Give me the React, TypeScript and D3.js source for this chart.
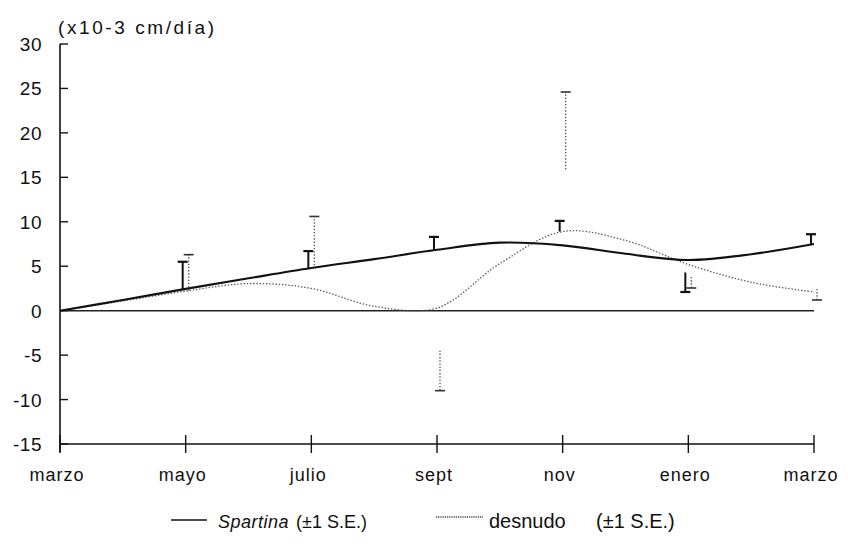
import React from "react";
import * as d3 from "d3";

// Month positions (0 = marzo, 12 = marzo of the following year)
const tickMonths = [0, 2, 4, 6, 8, 10, 12];
const tickLabels = ["marzo", "mayo", "julio", "sept", "nov", "enero", "marzo"];
const yTicks = [30, 25, 20, 15, 10, 5, 0, -5, -10, -15];

// Fitted curves, one value per month (x10-3 cm/día)
const curveMonths = [0, 1, 2, 3, 4, 5, 6, 7, 8, 9, 10, 11, 12];
const spartinaCurve = [0, 1.2, 2.45, 3.64, 4.8, 5.8, 6.85, 7.65, 7.35, 6.4, 5.7, 6.35, 7.5];
const desnudoCurve = [0, 1.1, 2.2, 3.05, 2.5, 0.5, 0.3, 5.3, 8.9, 7.9, 5.2, 3.2, 2.1];

// Standard-error bars: month, start of the bar, capped end
const spartinaBarMonths = [2, 4, 6, 8, 10, 12];
const spartinaBarFrom = [2.4, 4.8, 6.8, 8.9, 4.3, 7.5];
const spartinaBarTo = [5.5, 6.7, 8.3, 10.1, 2.1, 8.6];

const desnudoBarMonths = [2, 4, 6, 8, 10, 12];
const desnudoBarFrom = [2.25, 5.1, -4.5, 15.9, 3.8, 2.45];
const desnudoBarTo = [6.3, 10.6, -9.0, 24.6, 2.55, 1.2];

const W = 848;
const H = 544;
const FONT = "'Liberation Sans', Arial, sans-serif";

export default function App() {
  const x = d3.scaleLinear().domain([0, 12]).range([60, 814]);
  const y = d3.scaleLinear().domain([-15, 30]).range([444, 44]);

  const line = d3
    .line<number>()
    .x((_, i) => x(curveMonths[i]))
    .y((v) => y(v))
    .curve(d3.curveCatmullRom.alpha(0.5));

  const spartinaPath = line(spartinaCurve) || "";
  const desnudoPath = line(desnudoCurve) || "";

  const dotted = "1.4 1.8";

  return (
    <svg
      width={W}
      height={H}
      viewBox={`0 0 ${W} ${H}`}
      style={{ position: "absolute", left: 0, top: 0, background: "#fff" }}
      fontFamily={FONT}
    >
      <rect width={W} height={H} fill="#fff" />

      {/* unit label */}
      <text x={58} y={34} fontSize={19} fill="#111" textLength={156} lengthAdjust="spacing">
        (x10-3 cm/día)
      </text>

      {/* y axis */}
      <line x1={x(0)} x2={x(0)} y1={y(30)} y2={y(-15) + 8} stroke="#111" strokeWidth={1.6} />
      {yTicks.map((t) => (
        <g key={t}>
          <line x1={x(0)} x2={x(0) + 8} y1={y(t)} y2={y(t)} stroke="#111" strokeWidth={1.4} />
          <text x={42} y={y(t) + 7} fontSize={19} textAnchor="end" fill="#111" letterSpacing={0.5}>
            {t}
          </text>
        </g>
      ))}

      {/* x axis at the bottom */}
      <line x1={x(0)} x2={x(12)} y1={y(-15)} y2={y(-15)} stroke="#111" strokeWidth={1.6} />
      {tickMonths.map((m, i) => (
        <g key={i}>
          <line x1={x(m)} x2={x(m)} y1={y(-15) - 9} y2={y(-15) + 9} stroke="#111" strokeWidth={1.4} />
          <text x={x(m) - 3} y={481} fontSize={18} textAnchor="middle" fill="#111" letterSpacing={1}>
            {tickLabels[i]}
          </text>
        </g>
      ))}

      {/* zero reference */}
      <line x1={x(0)} x2={x(12)} y1={y(0)} y2={y(0)} stroke="#222" strokeWidth={1.5} />

      {/* fitted curves */}
      <path d={desnudoPath} fill="none" stroke="#555" strokeWidth={1.3} strokeDasharray={dotted} />
      <path d={spartinaPath} fill="none" stroke="#111" strokeWidth={2.1} />

      {/* Spartina error bars */}
      {spartinaBarMonths.map((m, i) => {
        const cx = x(m) - 3;
        return (
          <g key={"s" + i}>
            <line x1={cx} x2={cx} y1={y(spartinaBarFrom[i])} y2={y(spartinaBarTo[i])} stroke="#111" strokeWidth={2} />
            <line x1={cx - 5} x2={cx + 5} y1={y(spartinaBarTo[i])} y2={y(spartinaBarTo[i])} stroke="#111" strokeWidth={2.2} />
          </g>
        );
      })}

      {/* desnudo error bars */}
      {desnudoBarMonths.map((m, i) => {
        const cx = x(m) + 3;
        return (
          <g key={"d" + i}>
            <line x1={cx} x2={cx} y1={y(desnudoBarFrom[i])} y2={y(desnudoBarTo[i])} stroke="#555" strokeWidth={1.3} strokeDasharray={dotted} />
            <line x1={cx - 5} x2={cx + 5} y1={y(desnudoBarTo[i])} y2={y(desnudoBarTo[i])} stroke="#333" strokeWidth={1.6} />
          </g>
        );
      })}

      {/* legend */}
      <line x1={171} x2={207} y1={520} y2={520} stroke="#111" strokeWidth={1.4} />
      <text x={218} y={528} fontSize={18} fill="#111">
        <tspan fontStyle="italic" letterSpacing={0.5}>Spartina</tspan>
        <tspan dx={7}>(±1 S.E.)</tspan>
      </text>
      <line x1={436} x2={483} y1={517} y2={517} stroke="#444" strokeWidth={1.4} strokeDasharray="1.2 1" />
      <text x={489} y={528} fontSize={20} fill="#111">
        desnudo
      </text>
      <text x={596} y={528} fontSize={20} fill="#111">
        (±1 S.E.)
      </text>
    </svg>
  );
}
